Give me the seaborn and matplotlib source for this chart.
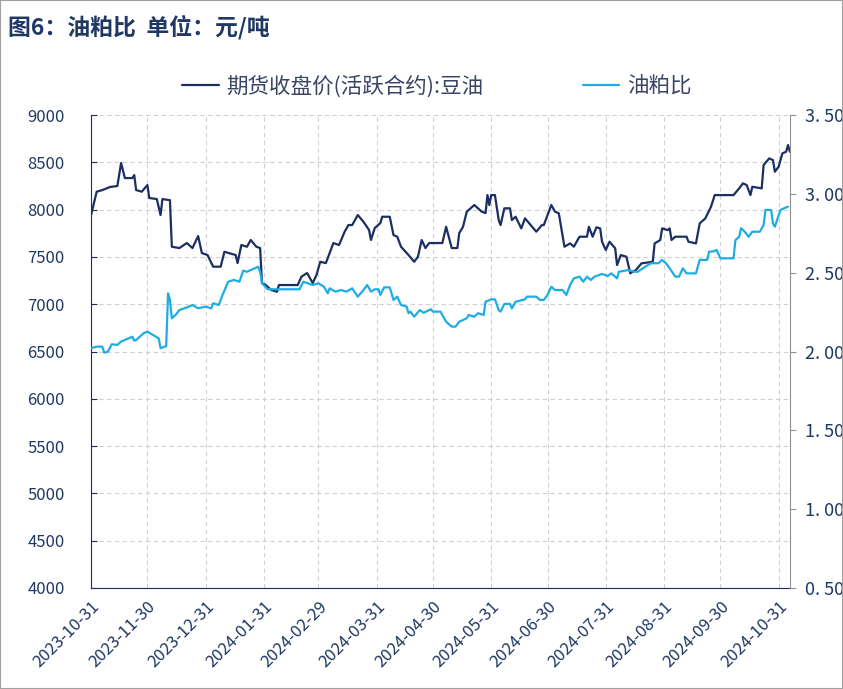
import pandas as pd
import matplotlib.pyplot as plt
import matplotlib.dates as mdates
from matplotlib.patches import Rectangle
import seaborn as sns

# soybean oil futures close (yuan/ton)
oil_dates = [
    '2023-10-31', '2023-11-03', '2023-11-06', '2023-11-10', '2023-11-14', '2023-11-16', '2023-11-18',
    '2023-11-22', '2023-11-23', '2023-11-24', '2023-11-27', '2023-11-30', '2023-12-01', '2023-12-05',
    '2023-12-07', '2023-12-08', '2023-12-12', '2023-12-13', '2023-12-17', '2023-12-21', '2023-12-24',
    '2023-12-27', '2023-12-29', '2024-01-01', '2024-01-04', '2024-01-08', '2024-01-10', '2024-01-16',
    '2024-01-17', '2024-01-19', '2024-01-22', '2024-01-24', '2024-01-27', '2024-01-29', '2024-01-30',
    '2024-02-01', '2024-02-04', '2024-02-07', '2024-02-08', '2024-02-18', '2024-02-20', '2024-02-23',
    '2024-02-26', '2024-02-28', '2024-03-01', '2024-03-04', '2024-03-06', '2024-03-08', '2024-03-11',
    '2024-03-14', '2024-03-16', '2024-03-18', '2024-03-21', '2024-03-24', '2024-03-27', '2024-03-28',
    '2024-03-30', '2024-04-02', '2024-04-03', '2024-04-07', '2024-04-09', '2024-04-11', '2024-04-13',
    '2024-04-17', '2024-04-20', '2024-04-22', '2024-04-24', '2024-04-26', '2024-04-28', '2024-05-05',
    '2024-05-07', '2024-05-10', '2024-05-13', '2024-05-14', '2024-05-16', '2024-05-18', '2024-05-22',
    '2024-05-26', '2024-05-28', '2024-05-29', '2024-05-30', '2024-05-31', '2024-06-02', '2024-06-04',
    '2024-06-05', '2024-06-07', '2024-06-10', '2024-06-11', '2024-06-13', '2024-06-16', '2024-06-18',
    '2024-06-21', '2024-06-24', '2024-06-27', '2024-06-28', '2024-07-02', '2024-07-04', '2024-07-06',
    '2024-07-09', '2024-07-12', '2024-07-14', '2024-07-17', '2024-07-21', '2024-07-22', '2024-07-24',
    '2024-07-26', '2024-07-28', '2024-07-29', '2024-07-31', '2024-08-02', '2024-08-05', '2024-08-06',
    '2024-08-08', '2024-08-11', '2024-08-13', '2024-08-16', '2024-08-19', '2024-08-25', '2024-08-26',
    '2024-08-29', '2024-08-30', '2024-09-02', '2024-09-03', '2024-09-04', '2024-09-06', '2024-09-12',
    '2024-09-13', '2024-09-17', '2024-09-19', '2024-09-22', '2024-09-25', '2024-09-27', '2024-10-07',
    '2024-10-10', '2024-10-12', '2024-10-14', '2024-10-16', '2024-10-17', '2024-10-22', '2024-10-23',
    '2024-10-26', '2024-10-28', '2024-10-29', '2024-10-31', '2024-11-02', '2024-11-04', '2024-11-05',
    '2024-11-06',
]
oil_price = [
    7943, 8190, 8207, 8239, 8250, 8493, 8334,
    8334, 8366, 8207, 8190, 8260, 8123, 8112,
    7943, 8112, 8100, 7608, 7594, 7647, 7594,
    7721, 7541, 7520, 7397, 7397, 7555, 7520,
    7435, 7626, 7608, 7679, 7608, 7594, 7224,
    7203, 7150, 7132, 7203, 7203, 7291, 7330,
    7224, 7309, 7449, 7435, 7541, 7647, 7626,
    7767, 7837, 7837, 7943, 7872, 7784, 7679,
    7805, 7858, 7925, 7925, 7731, 7714, 7608,
    7520, 7449, 7502, 7679, 7594, 7647, 7647,
    7819, 7594, 7594, 7752, 7819, 7978, 8049,
    7978, 7964, 8154, 8049, 8154, 8154, 7890,
    7837, 8014, 8014, 7890, 7925, 7802, 7908,
    7837, 7767, 7837, 7837, 8049, 7978, 7961,
    7608, 7643, 7608, 7714, 7714, 7819, 7714,
    7813, 7802, 7661, 7573, 7661, 7591, 7414,
    7520, 7502, 7327, 7361, 7432, 7449, 7643,
    7679, 7802, 7784, 7802, 7679, 7714, 7714,
    7661, 7643, 7855, 7908, 8031, 8154, 8154,
    8225, 8278, 8260, 8154, 8242, 8225, 8471,
    8542, 8524, 8401, 8454, 8595, 8612, 8683,
    8612,
]

# oil / meal ratio
ratio_dates = [
    '2023-10-31', '2023-11-03', '2023-11-06', '2023-11-07', '2023-11-09', '2023-11-11', '2023-11-14',
    '2023-11-16', '2023-11-20', '2023-11-22', '2023-11-23', '2023-11-24', '2023-11-28', '2023-11-30',
    '2023-12-03', '2023-12-06', '2023-12-07', '2023-12-10', '2023-12-11', '2023-12-12', '2023-12-13',
    '2023-12-15', '2023-12-17', '2023-12-21', '2023-12-24', '2023-12-27', '2023-12-31', '2024-01-03',
    '2024-01-04', '2024-01-07', '2024-01-09', '2024-01-12', '2024-01-15', '2024-01-18', '2024-01-20',
    '2024-01-22', '2024-01-25', '2024-01-28', '2024-01-29', '2024-01-30', '2024-02-02', '2024-02-19',
    '2024-02-21', '2024-02-26', '2024-02-29', '2024-03-03', '2024-03-05', '2024-03-06', '2024-03-09',
    '2024-03-12', '2024-03-15', '2024-03-18', '2024-03-21', '2024-03-24', '2024-03-26', '2024-03-28',
    '2024-03-30', '2024-04-01', '2024-04-02', '2024-04-04', '2024-04-07', '2024-04-09', '2024-04-11',
    '2024-04-13', '2024-04-16', '2024-04-17', '2024-04-18', '2024-04-20', '2024-04-23', '2024-04-25',
    '2024-04-29', '2024-04-30', '2024-05-04', '2024-05-07', '2024-05-10', '2024-05-12', '2024-05-14',
    '2024-05-18', '2024-05-19', '2024-05-22', '2024-05-24', '2024-05-27', '2024-05-28', '2024-05-31',
    '2024-06-02', '2024-06-04', '2024-06-05', '2024-06-07', '2024-06-10', '2024-06-11', '2024-06-13',
    '2024-06-18', '2024-06-19', '2024-06-24', '2024-06-26', '2024-06-28', '2024-06-30', '2024-07-02',
    '2024-07-04', '2024-07-08', '2024-07-10', '2024-07-12', '2024-07-14', '2024-07-17', '2024-07-19',
    '2024-07-21', '2024-07-23', '2024-07-25', '2024-07-29', '2024-08-01', '2024-08-03', '2024-08-06',
    '2024-08-07', '2024-08-12', '2024-08-15', '2024-08-17', '2024-08-21', '2024-08-24', '2024-08-28',
    '2024-08-30', '2024-09-01', '2024-09-03', '2024-09-06', '2024-09-08', '2024-09-10', '2024-09-12',
    '2024-09-17', '2024-09-19', '2024-09-23', '2024-09-24', '2024-09-26', '2024-09-28', '2024-09-30',
    '2024-10-07', '2024-10-08', '2024-10-10', '2024-10-11', '2024-10-13', '2024-10-15', '2024-10-17',
    '2024-10-21', '2024-10-23', '2024-10-24', '2024-10-27', '2024-10-28', '2024-10-29', '2024-11-01',
    '2024-11-03', '2024-11-05',
]
ratio = [
    2.021, 2.031, 2.031, 1.993, 1.999, 2.046, 2.042,
    2.063, 2.084, 2.094, 2.069, 2.073, 2.116, 2.126,
    2.105, 2.084, 2.021, 2.035, 2.369, 2.327, 2.211,
    2.232, 2.263, 2.280, 2.295, 2.274, 2.285, 2.274,
    2.306, 2.295, 2.359, 2.443, 2.454, 2.443, 2.513,
    2.506, 2.522, 2.538, 2.506, 2.433, 2.395, 2.395,
    2.443, 2.422, 2.433, 2.411, 2.369, 2.401, 2.380,
    2.390, 2.380, 2.401, 2.348, 2.390, 2.422, 2.380,
    2.395, 2.395, 2.359, 2.407, 2.407, 2.327, 2.348,
    2.295, 2.285, 2.243, 2.253, 2.221, 2.263, 2.246,
    2.268, 2.253, 2.253, 2.189, 2.158, 2.158, 2.189,
    2.211, 2.232, 2.221, 2.243, 2.232, 2.316, 2.331,
    2.331, 2.263, 2.253, 2.302, 2.302, 2.274, 2.316,
    2.331, 2.348, 2.348, 2.327, 2.327, 2.359, 2.411,
    2.390, 2.390, 2.359, 2.422, 2.464, 2.475, 2.443,
    2.475, 2.454, 2.475, 2.492, 2.479, 2.496, 2.464,
    2.506, 2.517, 2.506, 2.506, 2.538, 2.560, 2.560,
    2.581, 2.560, 2.528, 2.475, 2.475, 2.528, 2.496,
    2.496, 2.581, 2.581, 2.634, 2.634, 2.644, 2.591,
    2.591, 2.707, 2.728, 2.782, 2.760, 2.728, 2.760,
    2.760, 2.802, 2.898, 2.898, 2.813, 2.792, 2.898,
    2.909, 2.919,
]

tick_dates = ['2023-10-31', '2023-11-30', '2023-12-31', '2024-01-31', '2024-02-29', '2024-03-31',
              '2024-04-30', '2024-05-31', '2024-06-30', '2024-07-31', '2024-08-31', '2024-09-30',
              '2024-10-31']
ratio_ticks = [0.5, 1.0, 1.5, 2.0, 2.5, 3.0, 3.5]

oil_df = pd.DataFrame({'date': pd.to_datetime(oil_dates), 'price': oil_price})
ratio_df = pd.DataFrame({'date': pd.to_datetime(ratio_dates), 'ratio': ratio})

sns.set_style('white')
plt.rcParams['font.family'] = ['Noto Sans CJK SC', 'DejaVu Sans']

navy = '#1B2F62'
light = '#1EADE3'
text_c = '#1F3864'

fig = plt.figure(figsize=(8.43, 6.89), dpi=100)
ax = fig.add_axes([0.108, 0.1466, 0.829, 0.6864])
ax2 = ax.twinx()

sns.lineplot(data=oil_df, x='date', y='price', ax=ax, color=navy, linewidth=1.6,
             label='期货收盘价(活跃合约):豆油', legend=False)
sns.lineplot(data=ratio_df, x='date', y='ratio', ax=ax2, color=light, linewidth=1.6,
             label='油粕比', legend=False)

ax.set_xlim(pd.Timestamp('2023-10-31'), pd.Timestamp('2024-11-06'))
ax.set_ylim(4000, 9000)
ax.set_yticks(range(4000, 9001, 500))
ax2.set_ylim(0.5, 3.5)
ax2.set_yticks(ratio_ticks)
ax2.set_yticklabels([f'{v:.2f}'.replace('.', '. ') for v in ratio_ticks])

ax.set_xticks(pd.to_datetime(tick_dates))
ax.xaxis.set_major_formatter(mdates.DateFormatter('%Y-%m-%d'))
for lbl in ax.get_xticklabels():
    lbl.set_rotation(45)
    lbl.set_ha('right')
    lbl.set_rotation_mode('anchor')

ax.set_xlabel('')
ax.set_ylabel('')
ax2.set_ylabel('')

ax.grid(True, color='#D0D0D0', linestyle=(0, (4, 3)), linewidth=0.8)
ax.set_axisbelow(True)

ax.tick_params(axis='y', direction='in', length=4, color=navy, labelcolor=text_c, labelsize=12, pad=19)
ax.tick_params(axis='x', direction='in', length=4, color=navy, labelcolor=text_c, labelsize=12, pad=7)
ax2.tick_params(axis='y', direction='out', length=4, color='#909090', labelcolor=text_c, labelsize=13, pad=7)

ax.spines['top'].set_visible(False)
ax2.spines['top'].set_visible(False)
ax.spines['left'].set_color(navy)
ax.spines['bottom'].set_color(navy)
ax.spines['right'].set_visible(False)
ax2.spines['left'].set_visible(False)
ax2.spines['bottom'].set_visible(False)
ax2.spines['right'].set_color('#909090')

h1, l1 = ax.get_legend_handles_labels()
h2, l2 = ax2.get_legend_handles_labels()
fig.legend(h1 + h2, l1 + l2, loc='center', bbox_to_anchor=(0.518, 0.875), ncol=2, frameon=False,
           fontsize=15.5, handlelength=1.7, handletextpad=0.35, columnspacing=4.6,
           labelcolor='#3A4566')

fig.text(0.01, 0.978, '图6：油粕比  单位：元/吨', fontsize=16.5, fontweight='bold', color=text_c,
         va='top', ha='left')
fig.patches.append(Rectangle((0, 0), 1, 1, transform=fig.transFigure, fill=False,
                             edgecolor='#A0A0A0', linewidth=1.5))

fig.savefig('out.png', dpi=100)
